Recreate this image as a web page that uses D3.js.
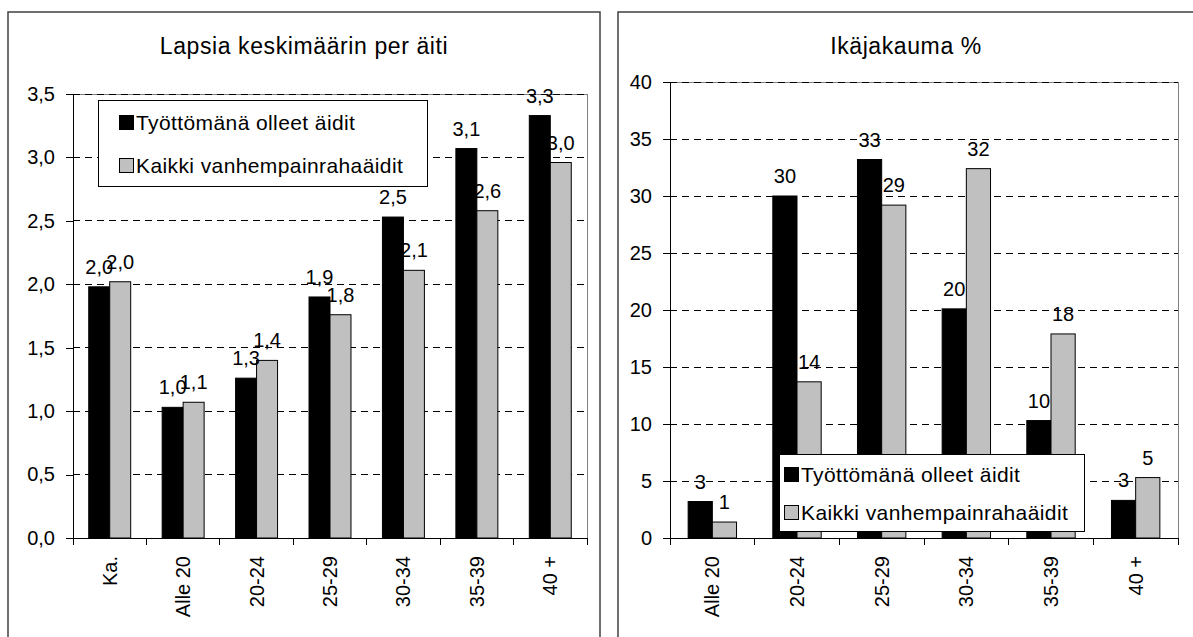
<!DOCTYPE html>

<head>
    <meta charset="utf-8">
    <script src="https://d3js.org/d3.v7.min.js"></script>

    <style>
    body {
        margin: 0;
        background: #fff;
    }

    svg {
        display: block;
        font-family: "Liberation Sans", Arial, sans-serif;
    }

    .frame {
        fill: none;
        stroke: #404040;
        stroke-width: 1.5;
    }

    .plot-border {
        fill: none;
        stroke: #808080;
        stroke-width: 1;
        shape-rendering: crispEdges;
    }

    .grid line {
        stroke: #000;
        stroke-dasharray: 7, 5;
        shape-rendering: crispEdges;
    }

    .axis path,
    .axis line {
        stroke: #000;
        shape-rendering: crispEdges;
    }

    .axis text {
        font-size: 20px;
        fill: #000;
    }

    .title {
        font-size: 23px;
        letter-spacing: 0.6px;
    }

    .bar-label {
        font-size: 20px;
    }

    .legend text {
        font-size: 21px;
        letter-spacing: 0.4px;
    }

    .legend rect {
        shape-rendering: crispEdges;
    }
    </style>
</head>

<body>
    <script>
    // Lapsia keskimäärin per äiti
    var leftCategories = ["Ka.", "Alle 20", "20-24", "25-29", "30-34", "35-39", "40 +"];
    var leftUnemployed = [1.98, 1.03, 1.26, 1.90, 2.53, 3.07, 3.33];
    var leftAllMothers = [2.02, 1.07, 1.40, 1.76, 2.11, 2.58, 2.96];
    var leftTicks = [0, 0.5, 1, 1.5, 2, 2.5, 3, 3.5];

    // Ikäjakauma %
    var rightCategories = ["Alle 20", "20-24", "25-29", "30-34", "35-39", "40 +"];
    var rightUnemployed = [3.2, 30.0, 33.2, 20.1, 10.3, 3.3];
    var rightAllMothers = [1.4, 13.7, 29.2, 32.4, 17.9, 5.3];
    var rightTicks = [0, 5, 10, 15, 20, 25, 30, 35, 40];

    var seriesNames = ["Työttömänä olleet äidit", "Kaikki vanhempainrahaäidit"];
    var seriesFill = ["#000000", "#C0C0C0"];

    var svg = d3.select("body").append("svg")
        .attr("width", 1193)
        .attr("height", 637);

    var comma1 = function(d) { return d3.format(".1f")(d).replace(".", ","); };
    var whole = d3.format(".0f");

    function drawChart(o) {
        var g = svg.append("g");

        g.append("rect")
            .attr("class", "frame")
            .attr("x", o.frame[0])
            .attr("y", o.frame[1])
            .attr("width", o.frame[2])
            .attr("height", o.frame[3]);

        g.append("text")
            .attr("class", "title")
            .attr("x", o.frame[0] + o.frame[2] / 2)
            .attr("y", 54)
            .attr("text-anchor", "middle")
            .text(o.title);

        var x = d3.scaleBand()
            .domain(o.categories)
            .range([o.left, o.right]);

        // gap width 150% like the original spreadsheet chart
        var x1 = d3.scaleBand()
            .domain([0, 1])
            .range([0, x.bandwidth()])
            .paddingOuter(0.75);

        var y = d3.scaleLinear()
            .domain([0, o.max])
            .range([o.bottom, o.top]);

        g.append("rect")
            .attr("class", "plot-border")
            .attr("x", o.left)
            .attr("y", o.top)
            .attr("width", o.right - o.left)
            .attr("height", o.bottom - o.top);

        g.append("g")
            .attr("class", "grid")
            .selectAll("line")
            .data(o.ticks.filter(function(t) { return t > 0; }))
            .enter().append("line")
            .attr("x1", o.left)
            .attr("x2", o.right)
            .attr("y1", function(d) { return y(d); })
            .attr("y2", function(d) { return y(d); });

        var rows = o.categories.map(function(c, i) {
            return { cat: c, values: [o.series[0][i], o.series[1][i]] };
        });

        var groups = g.selectAll(".group")
            .data(rows)
            .enter().append("g")
            .attr("class", "group")
            .attr("transform", function(d) { return "translate(" + x(d.cat) + ",0)"; });

        groups.selectAll("rect")
            .data(function(d) { return d.values; })
            .enter().append("rect")
            .attr("x", function(d, i) { return x1(i); })
            .attr("width", x1.bandwidth())
            .attr("y", function(d) { return y(d); })
            .attr("height", function(d) { return o.bottom - y(d); })
            .style("fill", function(d, i) { return seriesFill[i]; })
            .style("stroke", "#000")
            .style("stroke-width", 1);

        g.append("g")
            .attr("class", "axis axis--y")
            .attr("transform", "translate(" + o.left + ",0)")
            .call(d3.axisLeft(y)
                .tickValues(o.ticks)
                .tickFormat(o.format)
                .tickSize(7)
                .tickSizeOuter(0)
                .tickPadding(11));

        var xAxis = g.append("g")
            .attr("class", "axis axis--x")
            .attr("transform", "translate(0," + o.bottom + ")")
            .call(d3.axisBottom(x).tickSize(0).tickSizeOuter(0));

        xAxis.selectAll(".tick text")
            .attr("transform", "rotate(-90)")
            .attr("x", -18)
            .attr("y", 0)
            .attr("dy", "0.35em")
            .style("text-anchor", "end");

        // tick marks between categories
        xAxis.selectAll(".sep")
            .data(o.categories.concat(["end"]))
            .enter().append("line")
            .attr("class", "sep")
            .attr("x1", function(d, i) { return i < o.categories.length ? x(d) : x.range()[1]; })
            .attr("x2", function(d, i) { return i < o.categories.length ? x(d) : x.range()[1]; })
            .attr("y1", 0)
            .attr("y2", 7);

        // value labels above the bars
        groups.selectAll(".bar-label")
            .data(function(d) { return d.values; })
            .enter().append("text")
            .attr("class", "bar-label")
            .attr("x", function(d, i) { return x1(i) + x1.bandwidth() / 2; })
            .attr("y", function(d) { return y(d) - 13; })
            .attr("text-anchor", "middle")
            .text(o.labelFormat);

        var lg = g.append("g")
            .attr("class", "legend")
            .attr("transform", "translate(" + o.legend[0] + "," + o.legend[1] + ")");

        lg.append("rect")
            .attr("width", o.legend[2])
            .attr("height", o.legend[3])
            .style("fill", "#fff")
            .style("stroke", "#000");

        var item = lg.selectAll(".item")
            .data(seriesNames)
            .enter().append("g")
            .attr("class", "item")
            .attr("transform", function(d, i) {
                return "translate(0," + (o.legend[3] * (i === 0 ? 0.26 : 0.76)) + ")";
            });

        item.append("rect")
            .attr("x", o.legendPad)
            .attr("y", -7)
            .attr("width", 14)
            .attr("height", 14)
            .style("fill", function(d, i) { return seriesFill[i]; })
            .style("stroke", "#000");

        item.append("text")
            .attr("x", o.legendPad + 17)
            .attr("dy", "0.36em")
            .text(function(d) { return d; });
    }

    drawChart({
        frame: [8, 12, 592, 700],
        title: "Lapsia keskimäärin per äiti",
        categories: leftCategories,
        series: [leftUnemployed, leftAllMothers],
        ticks: leftTicks,
        max: 3.5,
        format: comma1,
        labelFormat: comma1,
        left: 73, right: 587, top: 94, bottom: 538,
        legend: [98, 100, 329, 86],
        legendPad: 21
    });

    drawChart({
        frame: [618, 12, 576, 700],
        title: "Ikäjakauma %",
        categories: rightCategories,
        series: [rightUnemployed, rightAllMothers],
        ticks: rightTicks,
        max: 40,
        format: whole,
        labelFormat: whole,
        left: 670, right: 1178, top: 82, bottom: 538,
        legend: [779, 454, 305, 77],
        legendPad: 5
    });
    </script>
</body>
